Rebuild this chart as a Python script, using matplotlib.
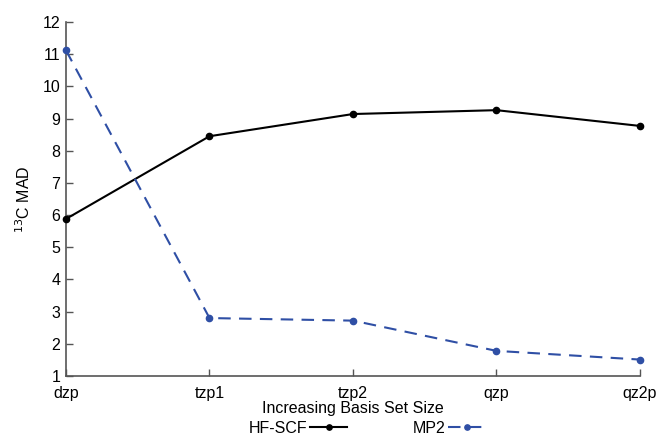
import matplotlib.pyplot as plt

plt.rcParams['font.family'] = ['Liberation Sans', 'DejaVu Sans']

# data
basis = ['dzp', 'tzp1', 'tzp2', 'qzp', 'qz2p']
hf_scf = [5.88, 8.45, 9.14, 9.26, 8.77]
mp2 = [11.12, 2.80, 2.72, 1.78, 1.51]

blue = '#2f4fa5'
axis_grey = '#555555'

fig = plt.figure(figsize=(6.56, 4.38), dpi=100)
ax = fig.add_axes([0.1006, 0.1416, 0.875, 0.8082])

x = range(len(basis))
ax.plot(x, hf_scf, color='black', lw=1.5, marker='o', ms=4.5, label='HF-SCF', clip_on=False, zorder=3)
ax.plot(x, mp2, color=blue, lw=1.5, ls=(0, (6, 4)), marker='o', ms=4.5, label='MP2', clip_on=False, zorder=3)

ax.set_xlim(0, len(basis) - 1)
ax.set_ylim(1, 12)
ax.set_xticks(list(x))
ax.set_xticklabels(basis)
ax.set_yticks(range(1, 13))

for s in ['top', 'right']:
    ax.spines[s].set_visible(False)
for s in ['left', 'bottom']:
    ax.spines[s].set_color(axis_grey)
    ax.spines[s].set_linewidth(1.2)

ax.tick_params(direction='in', length=5, width=1, color=axis_grey, labelsize=11.5)
ax.tick_params(axis='x', pad=7)
ax.tick_params(axis='y', pad=4)

ax.set_xlabel('Increasing Basis Set Size', fontsize=11.5, labelpad=0)
ax.set_ylabel('$^{13}$C MAD', fontsize=11.5, labelpad=7)

ax.legend(loc='center', bbox_to_anchor=(0.524, -0.148), ncol=2, frameon=False,
          markerfirst=False, fontsize=11.5, handlelength=2.3, columnspacing=4.1,
          handletextpad=0.2, borderpad=0, markerscale=0.85)

fig.savefig('out.png', dpi=100)
